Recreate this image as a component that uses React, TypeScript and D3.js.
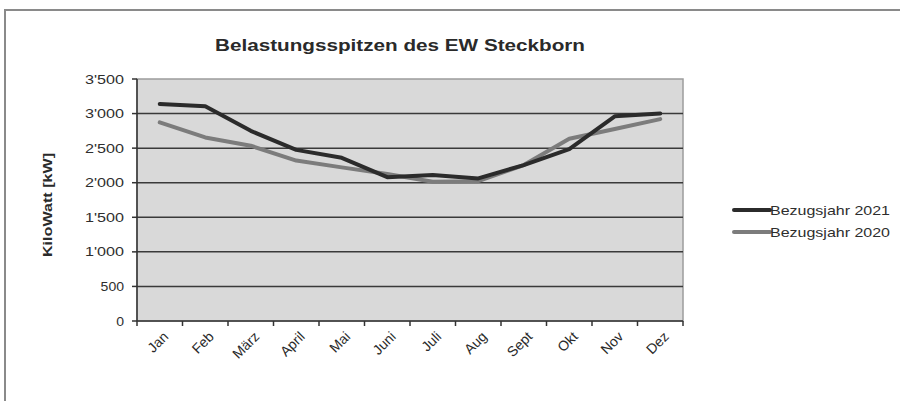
import { useRef, useEffect } from "react";
import * as d3 from "d3";

const months = ["Jan", "Feb", "März", "April", "Mai", "Juni", "Juli", "Aug", "Sept", "Okt", "Nov", "Dez"];
const values2021 = [3140, 3105, 2750, 2475, 2360, 2080, 2110, 2062, 2255, 2485, 2960, 3000];
const values2020 = [2872, 2655, 2535, 2320, 2222, 2125, 2015, 2022, 2255, 2635, 2777, 2920];
const yTicks = [0, 500, 1000, 1500, 2000, 2500, 3000, 3500];
const yTickLabels = ["0", "500", "1'000", "1'500", "2'000", "2'500", "3'000", "3'500"];
const seriesNames = ["Bezugsjahr 2021", "Bezugsjahr 2020"];
const seriesColors = ["#2b2b2b", "#7c7c7c"];

export default function App() {
  const svgRef = useRef<SVGSVGElement>(null);

  useEffect(() => {
    if (!svgRef.current) return;
    const svg = d3.select(svgRef.current);
    svg.selectAll("*").remove();

    const width = 900;
    const height = 401;
    const plot = { left: 137, right: 683, top: 79, bottom: 321 };
    const font = "Liberation Sans, Arial, sans-serif";

    svg.attr("width", width).attr("height", height);

    svg.append("rect").attr("width", width).attr("height", height).attr("fill", "#fff");

    // outer frame (runs off the right and bottom edge)
    svg.append("rect")
      .attr("x", 5).attr("y", 10)
      .attr("width", 920).attr("height", 420)
      .attr("fill", "none")
      .attr("stroke", "#8a8a8a")
      .attr("stroke-width", 2);

    const x = d3.scaleBand().domain(months).range([plot.left, plot.right]);
    const y = d3.scaleLinear().domain([0, 3500]).range([plot.bottom, plot.top]);

    svg.append("rect")
      .attr("x", plot.left).attr("y", plot.top)
      .attr("width", plot.right - plot.left).attr("height", plot.bottom - plot.top)
      .attr("fill", "#d9d9d9")
      .attr("stroke", "#9c9c9c")
      .attr("stroke-width", 1.5);

    // gridlines
    yTicks.slice(1, -1).forEach((t) => {
      svg.append("line")
        .attr("x1", plot.left).attr("x2", plot.right)
        .attr("y1", y(t)).attr("y2", y(t))
        .attr("stroke", "#3a3a3a")
        .attr("stroke-width", 1.5);
    });

    // y axis
    svg.append("line")
      .attr("x1", plot.left).attr("x2", plot.left)
      .attr("y1", plot.top).attr("y2", plot.bottom)
      .attr("stroke", "#333").attr("stroke-width", 1.5);
    yTicks.forEach((t, i) => {
      svg.append("line")
        .attr("x1", plot.left - 5).attr("x2", plot.left)
        .attr("y1", y(t)).attr("y2", y(t))
        .attr("stroke", "#333").attr("stroke-width", 1.5);
      const label = yTickLabels[i];
      svg.append("text")
        .attr("x", 124)
        .attr("y", y(t))
        .attr("dy", "0.35em")
        .attr("text-anchor", "end")
        .attr("font-family", font)
        .attr("font-size", 13)
        .attr("fill", "#2e2e2e")
        .attr("textLength", label.length * 7.8)
        .attr("lengthAdjust", "spacingAndGlyphs")
        .text(label);
    });

    // x axis
    svg.append("line")
      .attr("x1", plot.left).attr("x2", plot.right)
      .attr("y1", plot.bottom).attr("y2", plot.bottom)
      .attr("stroke", "#333").attr("stroke-width", 1.5);
    months.forEach((m, i) => {
      const bx = x(m)!;
      svg.append("line")
        .attr("x1", bx).attr("x2", bx)
        .attr("y1", plot.bottom).attr("y2", plot.bottom + 5)
        .attr("stroke", "#333").attr("stroke-width", 1.5);
      if (i === months.length - 1) {
        svg.append("line")
          .attr("x1", plot.right).attr("x2", plot.right)
          .attr("y1", plot.bottom).attr("y2", plot.bottom + 5)
          .attr("stroke", "#333").attr("stroke-width", 1.5);
      }
      const cx = bx + x.bandwidth() / 2 + 6;
      const cy = plot.bottom + 13;
      svg.append("text")
        .attr("transform", `translate(${cx},${cy}) rotate(-45)`)
        .attr("text-anchor", "end")
        .attr("dy", "0.35em")
        .attr("font-family", font)
        .attr("font-size", 14)
        .attr("fill", "#2a2a2a")
        .text(m);
    });

    // lines
    const line = d3.line<number>()
      .x((_, i) => x(months[i])! + x.bandwidth() / 2)
      .y((d) => y(d));

    [values2020, values2021].forEach((vals, k) => {
      const idx = k === 0 ? 1 : 0;
      svg.append("path")
        .attr("d", line(vals))
        .attr("fill", "none")
        .attr("stroke", seriesColors[idx])
        .attr("stroke-width", 4)
        .attr("stroke-linejoin", "round")
        .attr("stroke-linecap", "round");
    });

    // title
    svg.append("text")
      .attr("x", 400)
      .attr("y", 51)
      .attr("text-anchor", "middle")
      .attr("font-family", font)
      .attr("font-size", 16)
      .attr("font-weight", "bold")
      .attr("fill", "#2a2a2a")
      .attr("textLength", 370)
      .attr("lengthAdjust", "spacingAndGlyphs")
      .text("Belastungsspitzen des EW Steckborn");

    // y axis title
    svg.append("text")
      .attr("transform", `translate(52,205) rotate(-90)`)
      .attr("text-anchor", "middle")
      .attr("font-family", font)
      .attr("font-size", 13)
      .attr("font-weight", "bold")
      .attr("fill", "#2a2a2a")
      .attr("textLength", 104)
      .attr("lengthAdjust", "spacingAndGlyphs")
      .text("KiloWatt [kW]");

    // legend
    const legend = svg.append("g").attr("transform", "translate(734,210)");
    seriesNames.forEach((name, i) => {
      const ly = i * 22;
      legend.append("line")
        .attr("x1", 0).attr("x2", 36)
        .attr("y1", ly).attr("y2", ly)
        .attr("stroke", seriesColors[i])
        .attr("stroke-width", 4)
        .attr("stroke-linecap", "round");
      legend.append("text")
        .attr("x", 36)
        .attr("y", ly)
        .attr("dy", "0.35em")
        .attr("font-family", font)
        .attr("font-size", 13)
        .attr("fill", "#2e2e2e")
        .attr("textLength", 120)
        .attr("lengthAdjust", "spacingAndGlyphs")
        .text(name);
    });
  }, []);

  return (
    <svg ref={svgRef} style={{ position: "absolute", left: 0, top: 0, display: "block" }} />
  );
}
